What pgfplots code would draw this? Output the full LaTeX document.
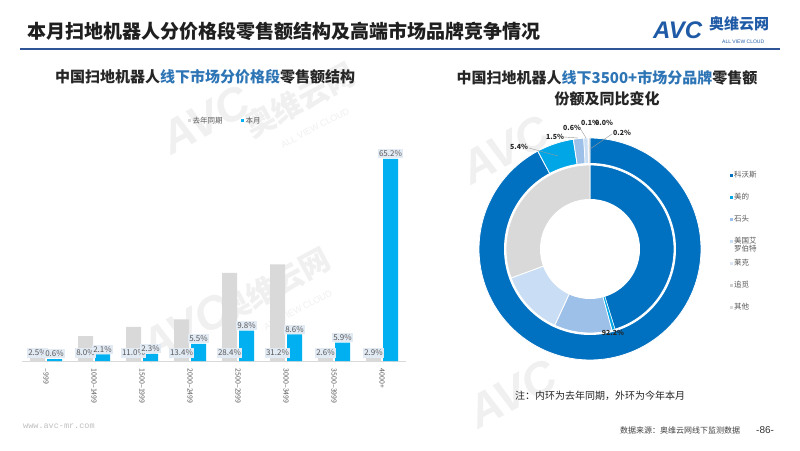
\documentclass[border=0pt]{standalone}
\usepackage{fontspec}
\setmainfont{Noto Sans CJK SC}
\newfontfamily\latinfont{Liberation Sans}
\newfontfamily\urlfont{Liberation Mono}
\usepackage{pgfplots}
\pgfplotsset{compat=1.18}

\definecolor{lastyear}{HTML}{D9D9D9}
\definecolor{thismonth}{HTML}{00B0F0}
\definecolor{titleblue}{HTML}{2E75B6}
\definecolor{rulecol}{HTML}{2F5597}
\definecolor{avcblue}{HTML}{1F5AA6}
\definecolor{txtgray}{HTML}{595959}
\definecolor{labelbg}{HTML}{E2EAF4}
% brands
\definecolor{ecovacs}{HTML}{0070C0}
\definecolor{midea}{HTML}{00A6E6}
\definecolor{roborock}{HTML}{9DC0E8}
\definecolor{irobot}{HTML}{C9DEF4}
\definecolor{lexy}{HTML}{DCE8F5}
\definecolor{dreame}{HTML}{D0D0D0}
\definecolor{others}{HTML}{D9D9D9}

\begin{document}
\begin{tikzpicture}[x=1pt,y=1pt]
\fill[white] (0,0) rectangle (800,450);
\useasboundingbox (0,0) rectangle (800,450);

% watermarks
\begin{scope}[every node/.style={rotate=28, text=black!6, inner sep=0}]
\node[font=\latinfont\bfseries\itshape\fontsize{46}{46}\selectfont] at (205,330) {AVC};
\node[font=\bfseries\fontsize{30}{30}\selectfont] at (300,350) {奥维云网};
\node[font=\latinfont\fontsize{9}{9}\selectfont] at (315,322) {ALL VIEW CLOUD};
\node[font=\latinfont\bfseries\itshape\fontsize{46}{46}\selectfont] at (185,122) {AVC};
\node[font=\bfseries\fontsize{30}{30}\selectfont] at (275,165) {奥维云网};
\node[font=\latinfont\fontsize{9}{9}\selectfont] at (298,140) {ALL VIEW CLOUD};
\node[font=\latinfont\bfseries\itshape\fontsize{46}{46}\selectfont] at (505,300) {AVC};
\node[font=\latinfont\bfseries\itshape\fontsize{46}{46}\selectfont] at (512,56) {AVC};
\end{scope}

% header
\node[anchor=west, inner sep=0, font=\fontsize{19}{22}\selectfont\bfseries, text=black!88]
  at (27,419) {本月扫地机器人分价格段零售额结构及高端市场品牌竞争情况};
\draw[rulecol, line width=1.5pt] (20,401) -- (780,401);
\node[anchor=west, inner sep=0, font=\latinfont\bfseries\itshape\fontsize{24}{24}\selectfont, text=avcblue]
  at (653,420) {AVC};
\node[anchor=west, inner sep=0, font=\fontsize{15}{15}\selectfont\bfseries, text=avcblue]
  at (709,426) {奥维云网};
\node[anchor=west, inner sep=0, font=\latinfont\fontsize{5}{5}\selectfont, text=avcblue]
  at (722,408) {ALL VIEW CLOUD};

% sub titles
\node[font=\fontsize{15}{18}\selectfont\bfseries, text=black!85]
  at (205,373) {中国扫地机器人\textcolor{titleblue}{线下市场分价格段}零售额结构};
\node[font=\fontsize{15}{21}\selectfont\bfseries, text=black!85, align=center]
  at (607,362) {中国扫地机器人\textcolor{titleblue}{线下3500+市场分品牌}零售额\\份额及同比变化};

% ---------- price segment bars ----------
\begin{axis}[
    at={(22pt,89pt)}, anchor=south west,
    scale only axis, width=384pt, height=217pt,
    xmin=-0.5, xmax=7.5, ymin=0, ymax=70,
    ybar=2pt, bar width=15pt,
    clip=false,
    axis line style={draw=none},
    ytick=\empty,
    xtick={0,...,7},
    xticklabels={–999,1000–1499,1500–1999,2000–2499,2500–2999,3000–3499,3500–3999,4000+},
    xtick style={draw=none},
    xticklabel style={rotate=-90, anchor=west, font=\fontsize{7}{7}\selectfont, text=txtgray},
    /pgf/number format/assume math mode=true,
    nodes near coords={\pgfmathprintnumber[fixed,fixed zerofill,precision=1]{\pgfplotspointmeta}\%},
    every node near coord/.append style={font=\fontsize{8}{8}\selectfont, text=txtgray,
        fill=labelbg, inner sep=1.5pt},
    legend columns=2,
    legend style={draw=none, fill=none, at={(0.529,1.106)}, anchor=center,
        font=\fontsize{7.5}{8}\selectfont, text=txtgray,
        /tikz/every even column/.append style={column sep=16pt}},
]
\draw[black!15, line width=0.6pt] (axis cs:-0.5,0) -- (axis cs:7.5,0);
% 217pt / 70 = 3.1pt per percent
\addplot[fill=lastyear, draw=none,
    visualization depends on=rawy \as \rawy,
    every node near coord/.append style={anchor=center, yshift={8pt-\rawy*3.1pt}},
    legend image code/.code={\fill[lastyear] (0pt,-1.5pt) rectangle (3pt,1.5pt);}]
  coordinates {(0,2.5) (1,8.0) (2,11.0) (3,13.4) (4,28.4) (5,31.2) (6,2.6) (7,2.9)};
\addlegendentry{去年同期}
\addplot[fill=thismonth, draw=none,
    every node near coord/.append style={anchor=south, yshift=0.5pt},
    legend image code/.code={\fill[thismonth] (0pt,-1.5pt) rectangle (3pt,1.5pt);}]
  coordinates {(0,0.6) (1,2.1) (2,2.3) (3,5.5) (4,9.8) (5,8.6) (6,5.9) (7,65.2)};
\addlegendentry{本月}
\end{axis}

% ---------- brand donut (outer: this month, inner: last year) ----------
\begin{axis}[
    at={(590pt,201pt)}, anchor=center,
    scale only axis, width=240pt, height=240pt,
    xmin=-120, xmax=120, ymin=-120, ymax=120,
    hide axis, clip=false,
    legend style={draw=none, fill=none, at={(1.07,0.835)}, anchor=north west,
        font=\fontsize{7.5}{8}\selectfont, text=txtgray, row sep=12.5pt,
        nodes={inner sep=1pt, text height=6pt, text depth=1.5pt}},
    legend cell align=left,
    legend image code/.code={\fill[#1, draw=none] (0pt,-1.5pt) rectangle (3pt,1.5pt);},
]
% outer ring, values in % (cumulative bounds)
\addplot[fill=ecovacs, draw=white, line width=0.8pt, domain=0:92.2, samples=120]
  ({111*sin(3.6*x)}, {111*cos(3.6*x)}) -- (axis cs:0,0) -- cycle;
\addlegendentry{科沃斯}
\addplot[fill=midea, draw=white, line width=0.8pt, domain=92.2:97.6, samples=12]
  ({111*sin(3.6*x)}, {111*cos(3.6*x)}) -- (axis cs:0,0) -- cycle;
\addlegendentry{美的}
\addplot[fill=roborock, draw=white, line width=0.8pt, domain=97.6:99.1, samples=5]
  ({111*sin(3.6*x)}, {111*cos(3.6*x)}) -- (axis cs:0,0) -- cycle;
\addlegendentry{石头}
\addplot[fill=irobot, draw=white, line width=0.6pt, domain=99.1:99.7, samples=3]
  ({111*sin(3.6*x)}, {111*cos(3.6*x)}) -- (axis cs:0,0) -- cycle;
\addlegendentry{\smash{\begin{tabular}[t]{@{}l@{}}美国艾\\[-1pt]罗伯特\end{tabular}}}
\addplot[fill=lexy, draw=white, line width=0.4pt, domain=99.7:99.8, samples=2]
  ({111*sin(3.6*x)}, {111*cos(3.6*x)}) -- (axis cs:0,0) -- cycle;
\addlegendentry{莱克}
\addlegendimage{dreame}
\addlegendentry{追觅}
\addplot[fill=others, draw=white, line width=0.4pt, domain=99.8:100, samples=2]
  ({111*sin(3.6*x)}, {111*cos(3.6*x)}) -- (axis cs:0,0) -- cycle;
\addlegendentry{其他}
\fill[white] (axis cs:0,0) circle[radius=86];
% inner ring
\addplot[forget plot, fill=ecovacs, draw=white, line width=0.8pt, domain=0:45.2, samples=80]
  ({84*sin(3.6*x)}, {84*cos(3.6*x)}) -- (axis cs:0,0) -- cycle;
\addplot[forget plot, fill=midea, draw=white, line width=0.4pt, domain=45.2:45.8, samples=3]
  ({84*sin(3.6*x)}, {84*cos(3.6*x)}) -- (axis cs:0,0) -- cycle;
\addplot[forget plot, fill=roborock, draw=white, line width=0.8pt, domain=45.8:56.9, samples=20]
  ({84*sin(3.6*x)}, {84*cos(3.6*x)}) -- (axis cs:0,0) -- cycle;
\addplot[forget plot, fill=irobot, draw=white, line width=0.8pt, domain=56.9:69.4, samples=20]
  ({84*sin(3.6*x)}, {84*cos(3.6*x)}) -- (axis cs:0,0) -- cycle;
\addplot[forget plot, fill=others, draw=white, line width=0.8pt, domain=69.4:100, samples=50]
  ({84*sin(3.6*x)}, {84*cos(3.6*x)}) -- (axis cs:0,0) -- cycle;
\fill[white] (axis cs:0,0) circle[radius=50];
% data labels of the outer ring
\begin{scope}[every node/.style={font=\fontsize{7}{7}\selectfont\bfseries, text=black!85, inner sep=0.5pt}]
\node at (axis cs:23,-84) {92.2\%};
\node at (axis cs:-71,102) {5.4\%};
\node at (axis cs:-35,112) {1.5\%};
\node at (axis cs:-18,121) {0.6\%};
\node at (axis cs:0,126) {0.1\%};
\node at (axis cs:14,126) {0.0\%};
\node at (axis cs:32,116) {0.2\%};
\end{scope}
\draw[black!40, line width=0.4pt] (axis cs:-61,101) -- (axis cs:-32,93);
\draw[black!40, line width=0.4pt] (axis cs:-26,112) -- (axis cs:-12,111);
\draw[black!40, line width=0.4pt] (axis cs:-10,121) -- (axis cs:-4,111);
\draw[black!40, line width=0.4pt] (axis cs:22,115) -- (axis cs:0,100);
\end{axis}

% notes and footer
\node[font=\fontsize{10}{10}\selectfont, text=black!85] at (600,54) {注：内环为去年同期，外环为今年本月};
\node[anchor=west, inner sep=0, font=\urlfont\fontsize{8.5}{9}\selectfont, text=black!25] at (23,24) {www.avc-mr.com};
\node[anchor=west, inner sep=0, font=\fontsize{8}{8}\selectfont, text=black!75] at (620,20) {数据来源：奥维云网线下监测数据};
\node[anchor=west, inner sep=0, font=\latinfont\fontsize{10}{10}\selectfont, text=black!80] at (756,20) {-86-};
\end{tikzpicture}
\end{document}
